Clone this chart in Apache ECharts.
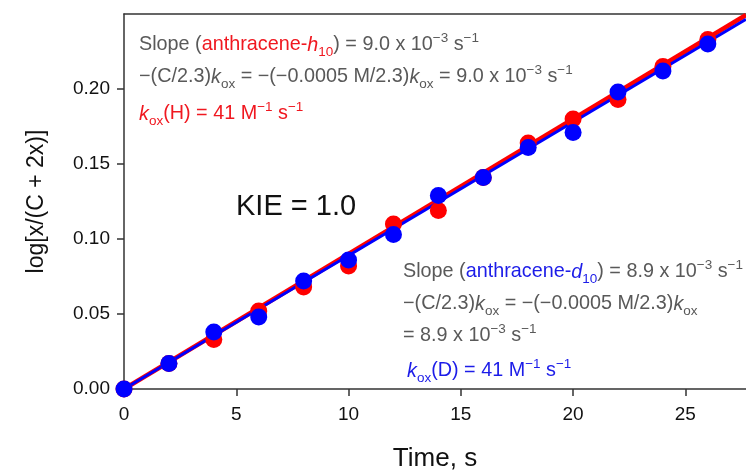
<!DOCTYPE html>
<html>
<head>
<meta charset="utf-8">
<script src="https://cdn.jsdelivr.net/npm/echarts@6/dist/echarts.min.js"></script>
<style>
  html, body { margin: 0; padding: 0; background: #fff; }
  #chart { width: 746px; height: 475px; }
</style>
</head>
<body>
<div id="chart"></div>
<script>
// Reaction time points (s)
var timeS = [0, 2, 4, 6, 8, 10, 12, 14, 16, 18, 20, 22, 24, 26];
// log[x/(C + 2x)] for anthracene-h10 (red) and anthracene-d10 (blue)
var logH = [0, 0.017, 0.033, 0.052, 0.068, 0.082, 0.110, 0.119, 0.141, 0.164, 0.180, 0.193, 0.215, 0.233];
var logD = [0, 0.017, 0.038, 0.048, 0.072, 0.086, 0.103, 0.129, 0.141, 0.161, 0.171, 0.198, 0.212, 0.230];
// Fitted slopes (s^-1)
var slopeH = 9.0e-3;
var slopeD = 8.9e-3;
// Axis ranges and tick values
var xMax = 27.7;
var yMax = 0.25;
var xTicks = [0, 5, 10, 15, 20, 25];
var yTicks = [0, 0.05, 0.10, 0.15, 0.20];

var FONT = '"Liberation Sans", Arial, sans-serif';
var RED = '#ff0000';
var BLUE = '#0000ff';
var GRAY = '#595959';
var RED_TXT = '#f01820';
var BLUE_TXT = '#1c1ce8';

function pairs(xs, ys) {
  return xs.map(function (x, i) { return [x, ys[i]]; });
}
function fitLine(slope) {
  return [0, xMax].map(function (x) { return [x, slope * x]; });
}

// Rich-text token styles for the annotation lines (main, italic, subscript, superscript)
function tok(fill, kind) {
  var s = { fill: fill, fontFamily: FONT };
  if (kind === 'sub') { s.fontSize = 13.5; s.lineHeight = 13; s.verticalAlign = 'bottom'; }
  else if (kind === 'sup') { s.fontSize = 13.5; s.lineHeight = 13; s.verticalAlign = 'top'; }
  else { s.fontSize = 19.8; s.lineHeight = 28; s.verticalAlign = 'middle'; }
  if (kind === 'it') { s.fontStyle = 'italic'; }
  return s;
}
var RICH = {
  g: tok(GRAY), gi: tok(GRAY, 'it'), gs: tok(GRAY, 'sub'), gp: tok(GRAY, 'sup'),
  r: tok(RED_TXT), ri: tok(RED_TXT, 'it'), rs: tok(RED_TXT, 'sub'), rp: tok(RED_TXT, 'sup'),
  b: tok(BLUE_TXT), bi: tok(BLUE_TXT, 'it'), bs: tok(BLUE_TXT, 'sub'), bp: tok(BLUE_TXT, 'sup')
};

function label(x, y, text) {
  return {
    type: 'text', x: x, y: y, z: 100,
    style: { text: text, rich: RICH, fill: GRAY, align: 'left', verticalAlign: 'middle' }
  };
}

var chart = echarts.init(document.getElementById('chart'), null, { renderer: 'canvas' });

chart.setOption({
  animation: false,
  backgroundColor: '#ffffff',
  grid: { left: 124, top: 14, right: 0, bottom: 86, containLabel: false, outerBoundsMode: 'none' },
  xAxis: [{
    type: 'value', min: 0, max: xMax, interval: 5,
    name: 'Time, s', nameLocation: 'middle', nameGap: 57,
    nameTextStyle: { fontSize: 26, color: '#111', fontFamily: FONT },
    axisLine: { show: true, lineStyle: { color: '#333', width: 1.5 } },
    axisTick: { show: true, inside: false, length: 7, customValues: xTicks, lineStyle: { color: '#333', width: 1.5 } },
    axisLabel: { customValues: xTicks, fontSize: 19, color: '#111', fontFamily: FONT, margin: 16 },
    splitLine: { show: false }
  }, {
    type: 'value', position: 'top', min: 0, max: xMax,
    axisLine: { show: true, onZero: false, lineStyle: { color: '#333', width: 1.5 } },
    axisTick: { show: false }, axisLabel: { show: false }, splitLine: { show: false }
  }],
  yAxis: {
    type: 'value', min: 0, max: yMax, interval: 0.05,
    name: 'log[x/(C + 2x)]', nameLocation: 'middle', nameGap: 76, nameRotate: 90,
    nameTextStyle: { fontSize: 23, color: '#111', fontFamily: FONT },
    axisLine: { show: true, onZero: false, lineStyle: { color: '#333', width: 1.5 } },
    axisTick: { show: true, inside: false, length: 7, customValues: yTicks, lineStyle: { color: '#333', width: 1.5 } },
    axisLabel: {
      customValues: yTicks, fontSize: 19, color: '#111', fontFamily: FONT, margin: 14,
      formatter: function (v) { return v.toFixed(2); }
    },
    splitLine: { show: false }
  },
  series: [
    { type: 'line', data: fitLine(slopeH), symbol: 'none', clip: true,
      lineStyle: { color: RED, width: 4.5 }, z: 2 },
    { type: 'line', data: fitLine(slopeD), symbol: 'none', clip: true,
      lineStyle: { color: BLUE, width: 3 }, z: 3 },
    { type: 'scatter', data: pairs(timeS, logH), symbol: 'circle', symbolSize: 17,
      itemStyle: { color: RED, opacity: 1 }, z: 4, clip: false },
    { type: 'scatter', data: pairs(timeS, logD), symbol: 'circle', symbolSize: 17,
      itemStyle: { color: BLUE, opacity: 1 }, z: 5, clip: false }
  ],
  graphic: [
    label(139, 45, '{g|Slope (}{r|anthracene-}{ri|h}{rs|10}{g|) = 9.0 x 10}{gp|−3}{g| s}{gp|−1}'),
    label(139, 77, '{g|−(C/2.3)}{gi|k}{gs|ox}{g| = −(−0.0005 M/2.3)}{gi|k}{gs|ox}{g| = 9.0 x 10}{gp|−3}{g| s}{gp|−1}'),
    label(139, 114, '{ri|k}{rs|ox}{r|(H) = 41 M}{rp|−1}{r| s}{rp|−1}'),
    label(403, 272, '{g|Slope (}{b|anthracene-}{bi|d}{bs|10}{g|) = 8.9 x 10}{gp|−3}{g| s}{gp|−1}'),
    label(403, 304, '{g|−(C/2.3)}{gi|k}{gs|ox}{g| = −(−0.0005 M/2.3)}{gi|k}{gs|ox}'),
    label(403, 336, '{g|= 8.9 x 10}{gp|−3}{g| s}{gp|−1}'),
    label(407, 371, '{bi|k}{bs|ox}{b|(D) = 41 M}{bp|−1}{b| s}{bp|−1}'),
    {
      type: 'text', x: 236, y: 207, z: 100,
      style: { text: 'KIE = 1.0', fontSize: 29, fill: '#111', fontFamily: FONT, align: 'left', verticalAlign: 'middle' }
    }
  ]
});
</script>
</body>
</html>
